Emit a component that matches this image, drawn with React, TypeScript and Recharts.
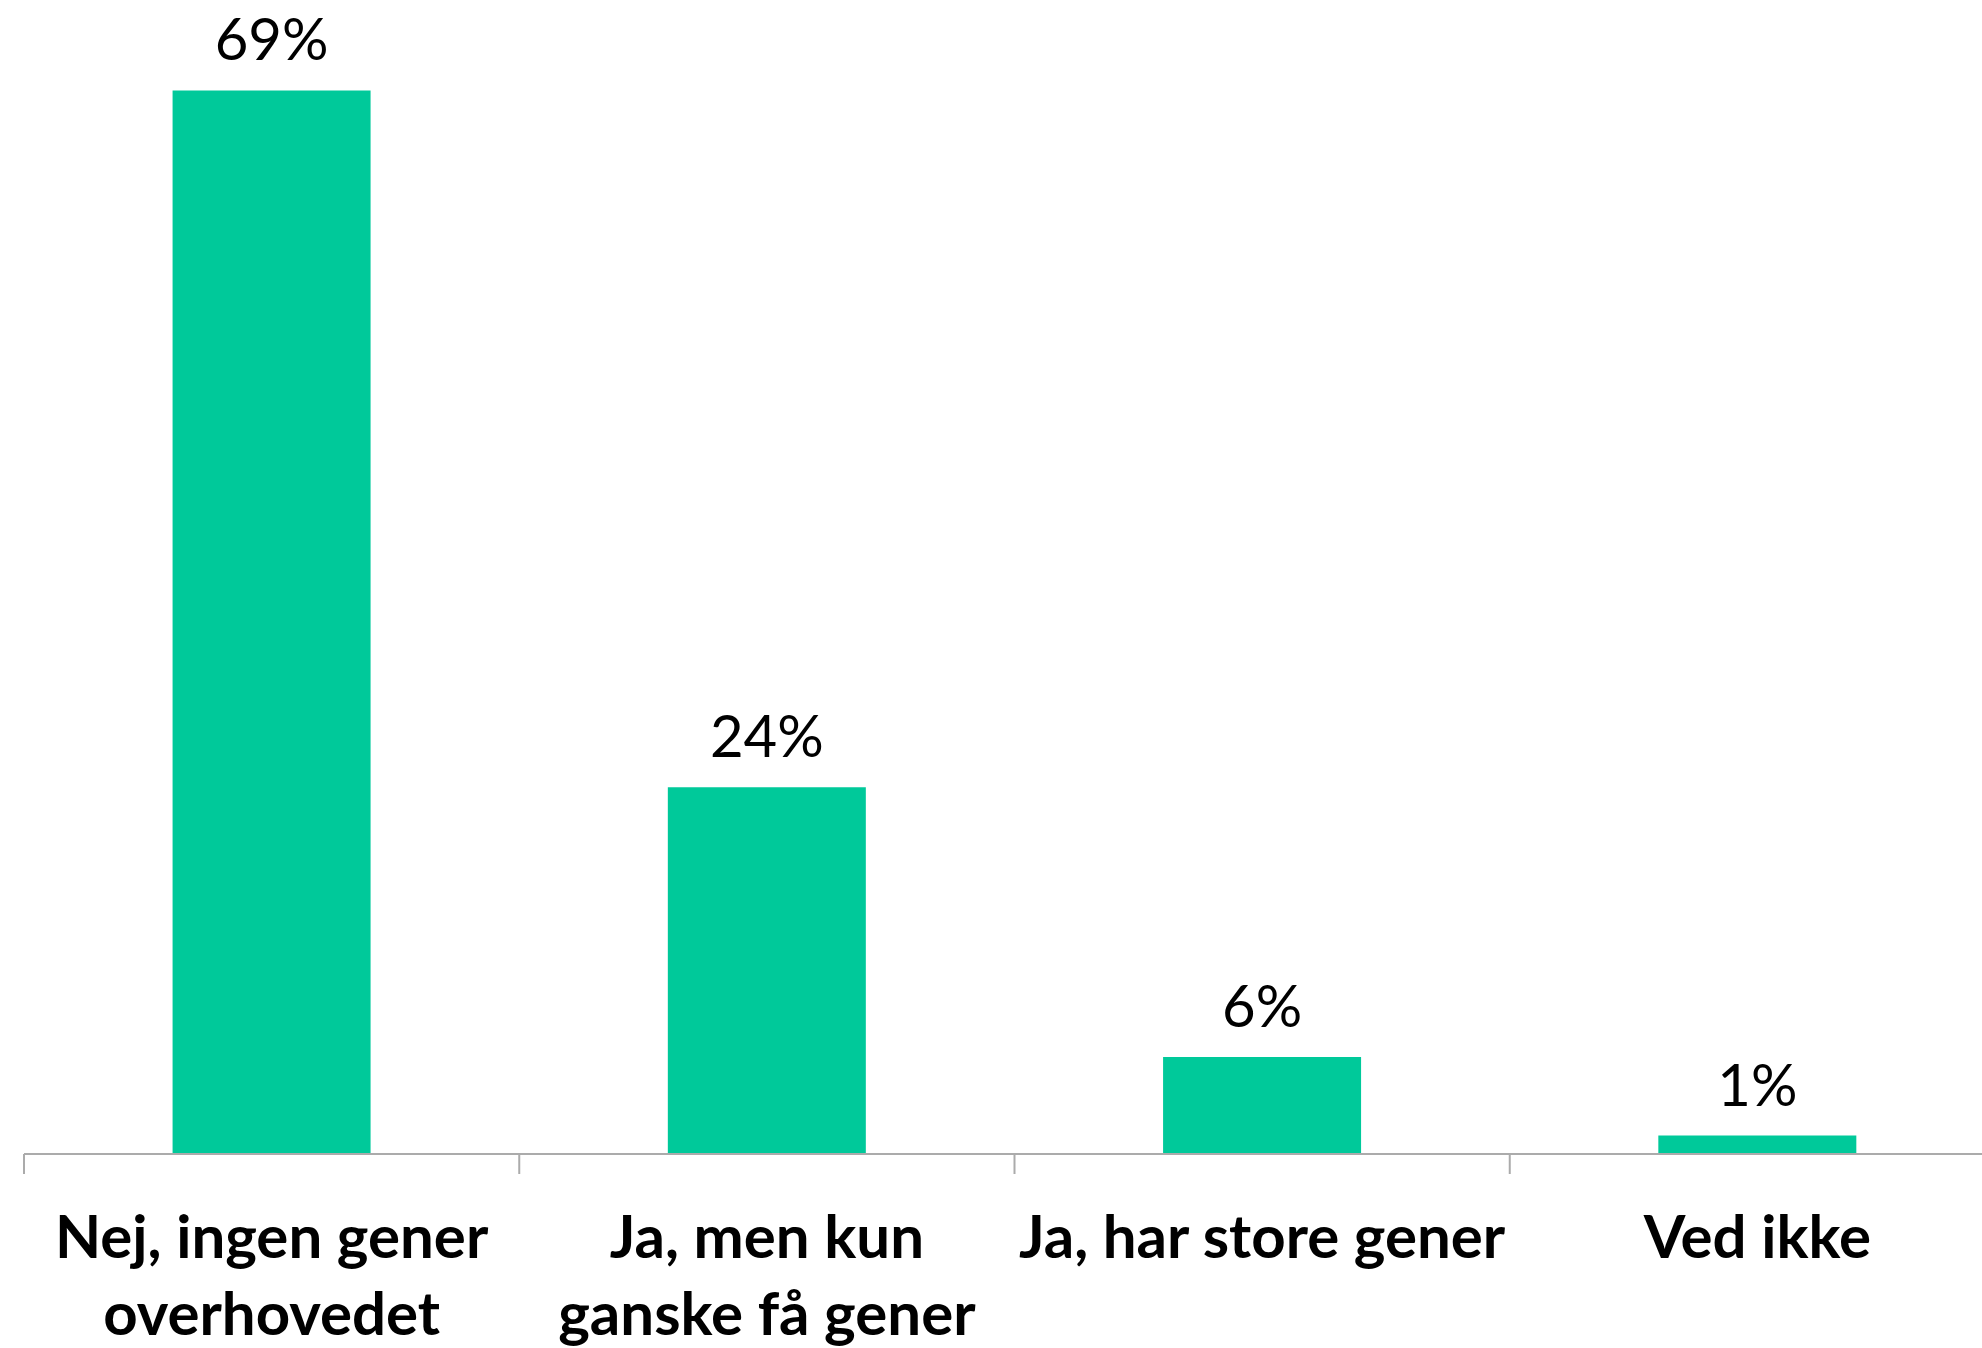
import React from 'react';
import { BarChart, Bar, XAxis, YAxis, LabelList } from 'recharts';

const categories = [
  'Nej, ingen gener overhovedet',
  'Ja, men kun ganske få gener',
  'Ja, har store gener',
  'Ved ikke',
];
const categoryLines = [
  ['Nej, ingen gener', 'overhovedet'],
  ['Ja, men kun', 'ganske få gener'],
  ['Ja, har store gener'],
  ['Ved ikke'],
];
const values = [69, 23.8, 6.3, 1.2];
const valueLabels = ['69%', '24%', '6%', '1%'];
const yDomain = [0, 70];

const data = categories.map((c, i) => ({ category: c, value: values[i] }));

const BAR_COLOR = '#00C99A';
const AXIS_COLOR = '#ABABAB';
const TICK_LEN = 20;

const CategoryTick = (props: any) => {
  const { x, y, payload, width, visibleTicksCount } = props;
  const idx = categories.indexOf(payload.value);
  const lines = categoryLines[idx] || [payload.value];
  const band = width / (visibleTicksCount || categories.length);
  const bx = x - band / 2;
  return (
    <g>
      <line x1={bx} y1={y} x2={bx} y2={y + TICK_LEN} stroke={AXIS_COLOR} strokeWidth={2} />
      <text
        x={x}
        y={y}
        textAnchor="middle"
        fontFamily="Lato, 'Open Sans', sans-serif"
        fontWeight={700}
        fontSize={60}
        fill="#000"
      >
        {lines.map((l, i) => (
          <tspan key={i} x={x} dy={i === 0 ? 104 : 77}>
            {l}
          </tspan>
        ))}
      </text>
    </g>
  );
};

const ValueLabel = (props: any) => {
  const { x, y, width, index } = props;
  return (
    <text
      x={x + width / 2}
      y={y - 30}
      textAnchor="middle"
      fontFamily="Lato, 'Open Sans', sans-serif"
      fontSize={58}
      fill="#000"
    >
      {valueLabels[index]}
    </text>
  );
};

export default function App() {
  return (
    <div
      style={{
        position: 'absolute',
        left: 0,
        top: 0,
        width: 1982,
        height: 1348,
        overflow: 'hidden',
        background: '#fff',
      }}
    >
      <BarChart
        width={2010}
        height={1348}
        data={data}
        margin={{ top: 75, right: 5, left: 24, bottom: 0 }}
        barCategoryGap="30%"
      >
        <XAxis
          dataKey="category"
          type="category"
          height={194}
          axisLine={{ stroke: AXIS_COLOR, strokeWidth: 2 }}
          tickLine={false}
          tickSize={0}
          tickMargin={0}
          interval={0}
          tick={<CategoryTick />}
        />
        <YAxis hide domain={yDomain} />
        <Bar dataKey="value" fill={BAR_COLOR} isAnimationActive={false}>
          <LabelList dataKey="value" content={<ValueLabel />} />
        </Bar>
      </BarChart>
    </div>
  );
}
